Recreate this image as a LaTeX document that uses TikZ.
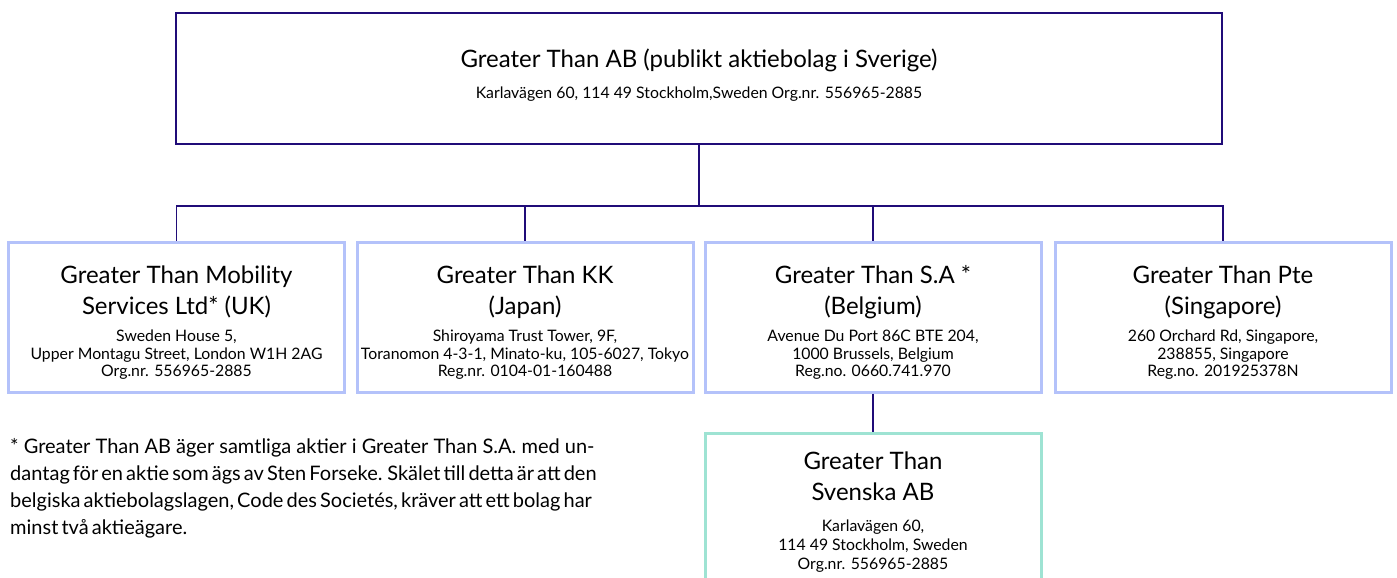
\documentclass[tikz,border=0pt]{standalone}
\usepackage{fontspec}
\setmainfont{Lato}
\definecolor{navy}{RGB}{32,12,120}
\definecolor{lavender}{RGB}{180,194,250}
\definecolor{mint}{RGB}{158,227,211}
\newcommand\titlefnt{\fontsize{24}{31}\selectfont}
\newcommand\headstrut[1][29pt]{\rule{0pt}{#1}}
\newcommand\addrfnt{\fontsize{15.8}{17.5}\selectfont\lineskiplimit=-50pt\relax}
\newcommand\subaddrfnt{\fontsize{15.8}{19}\selectfont\lineskiplimit=-50pt\relax}
\begin{document}
\begin{tikzpicture}[x=1pt,y=-1pt,
    parentbox/.style={draw=navy,line width=2.5pt,minimum width=1046pt,minimum height=131pt,align=center,inner sep=0pt,font=\addrfnt,
      execute at end node={\rule[-10pt]{0pt}{0pt}}},
    childbox/.style={draw=lavender,line width=3pt,minimum width=336pt,minimum height=150pt,align=center,inner sep=0pt,font=\addrfnt},
    subbox/.style={childbox,draw=mint,font=\subaddrfnt},
    link/.style={draw=navy,line width=1.2pt}]
    \useasboundingbox (0,0) rectangle (1397,578);

    \node[parentbox] (gt) at (699,78.5) {\titlefnt Greater Than AB (publikt aktiebolag i Sverige)\\[13.5pt]
      Karlavägen 60, 114 49 Stockholm,Sweden Org.nr. 556965-2885};

    \node[childbox] (uk) at (176.5,317) {\headstrut\titlefnt Greater Than Mobility\\[13.2pt] \titlefnt Services Ltd* (UK)\\[10pt]
      Sweden House 5,\\ Upper Montagu Street, London W1H 2AG\\ Org.nr. 556965-2885};
    \node[childbox] (jp) at (525,317) {\headstrut\titlefnt Greater Than KK\\[13.2pt] \titlefnt (Japan)\\[10pt]
      Shiroyama Trust Tower, 9F,\\ Toranomon 4-3-1, Minato-ku, 105-6027, Tokyo\\ Reg.nr. 0104-01-160488};
    \node[childbox] (be) at (873,317) {\headstrut\titlefnt Greater Than S.A *\\[13.2pt] \titlefnt (Belgium)\\[10pt]
      Avenue Du Port 86C BTE 204,\\ 1000 Brussels, Belgium\\ Reg.no. 0660.741.970};
    \node[childbox] (sg) at (1223,317) {\headstrut\titlefnt Greater Than Pte\\[13.2pt] \titlefnt (Singapore)\\[10pt]
      260 Orchard Rd, Singapore,\\ 238855, Singapore\\ Reg.no. 201925378N};

    \node[subbox] (se) at (873,508) {\headstrut[26pt]\titlefnt Greater Than\\[12.3pt] \titlefnt Svenska AB\\[11.6pt]
      Karlavägen 60,\\ 114 49 Stockholm, Sweden\\ Org.nr. 556965-2885};

    \coordinate (bus) at (699,206);
    \draw[link] (gt.south) -- (bus);
    \foreach \c in {uk,jp,be,sg}
    \draw[link] (bus) -| (\c.north);
    \draw[link] (be.south) -- (se.north);

    % footnote
    \node[anchor=north west,align=left,inner sep=0pt,font=\fontsize{20}{27}\selectfont] (note) at (10,438)
      {* Greater Than AB äger samtliga aktier i Greater Than S.A. med un-\\
       \spaceskip=3.1pt\relax dantag för en aktie som ägs av Sten Forseke. Skälet till detta är att den\\
       \spaceskip=3.1pt\relax belgiska aktiebolagslagen, Code des Societés, kräver att ett bolag har\\
       \spaceskip=3.1pt\relax minst två aktieägare.};
\end{tikzpicture}
\end{document}
